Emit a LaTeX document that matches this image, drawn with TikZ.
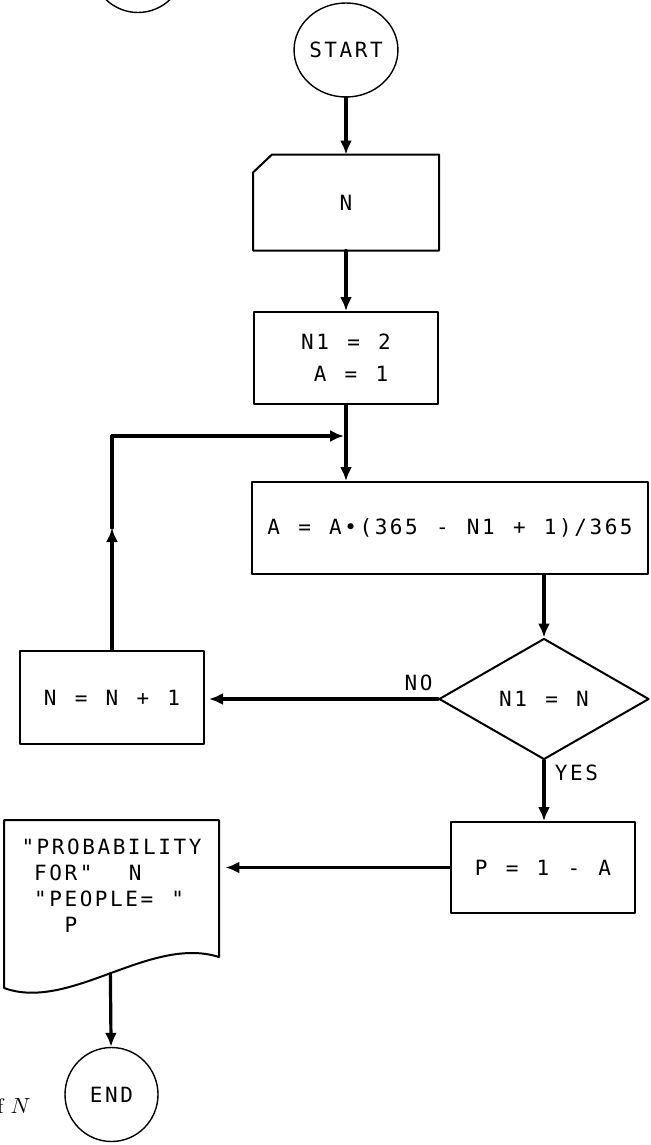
\documentclass[tikz,border=0pt]{standalone}
\usepackage{fontspec}
\newfontfamily\flowfont[LetterSpace=12.2, WordSpace=1.2]{DejaVu Sans Mono}
\usetikzlibrary{arrows.meta,positioning,shapes.geometric}
\begin{document}
\begin{tikzpicture}[x=0.5pt, y=-0.5pt, line join=round, line cap=round,
		>={Latex[length=7pt,width=6pt]},
		font=\flowfont\fontsize{10.5}{13}\selectfont,
		term/.style={draw, line width=0.7pt, ellipse, minimum width=46.5pt, minimum height=47pt, inner sep=0pt},
		box/.style={draw, line width=1pt, minimum width=92pt, minimum height=46pt, inner sep=0pt},
		cond/.style={draw, line width=1pt, diamond, aspect=1.7, minimum width=105pt, minimum height=60.5pt, inner sep=0pt},
		flow/.style={->, line width=1.6pt}]
	\useasboundingbox (0,0) rectangle (651,1145);
	\node[term] (prev) at (138,-34.5) {};
	\node[term] (start) at (346,50) {START};
	\node[box, draw=none, minimum height=47pt] (card) at (346,202.5) {N};
	\draw[line width=1pt] ([yshift=-9pt]card.north west) -- ([xshift=9.5pt]card.north west) -- (card.north east) -- (card.south east) -- (card.south west) -- cycle;
	\node[box, align=left] (init) at (346,358) {N1 = 2\\[3pt]\hphantom{N}A = 1};
	\node[box, minimum width=198pt] (calc) at (450,528) {A = A•(365 - N1 + 1)/365};
	\node[cond] (test) at (544,699) {N1 = N};
	\node[box, minimum height=46.5pt] (incr) at (112,697.5) {N = N + 1};
	\node[box, minimum height=45.5pt] (prob) at (543,867.5) {P = 1 - A};
	\node[align=left, minimum width=107.5pt, inner sep=0pt] (out) at (111.5,886) {"PROBABILITY\\\hphantom{"}FOR"~~N\\\hphantom{"}"PEOPLE=~"\\\hphantom{"PR}P};
	\draw[line width=1pt] (219,957) -- (219,820) -- (4,820) -- (4,988) .. controls (70,1012) and (150,935) .. (219,957) coordinate[pos=0.5] (outbot);
	\node[term] (end) at (111.5,1094.5) {END};
	\node[font=\normalfont\fontsize{10.5}{12}\selectfont, anchor=base east, inner sep=0pt] (ofn) at (31,1113) {f $N$};
	\node (no) at (418.5,683) {NO};
	\node (yes) at (576.5,773) {YES};
	\coordinate[below=15.5pt of init.south] (join);
	\draw[flow] (start) -- (card);
	\draw[flow] (card) -- (init);
	\draw[flow] (init) -- (init |- calc.north);
	\draw[flow] (test |- calc.south) -- (test);
	\draw[flow, shorten >=2pt] (test.west) -- (test.west -| incr.east);
	\draw[flow] (test) -- (test |- prob.north);
	\draw[flow, shorten >=3pt] (prob.west) -- (prob.west -| out.east);
	\draw[flow] (outbot) -- (end);
	\draw[flow] (incr.north) -- (incr.north |- calc.west);
	\draw[flow, shorten >=1pt] (incr.north |- calc.west) -- (incr.north |- join) -- (join);
\end{tikzpicture}
\end{document}
